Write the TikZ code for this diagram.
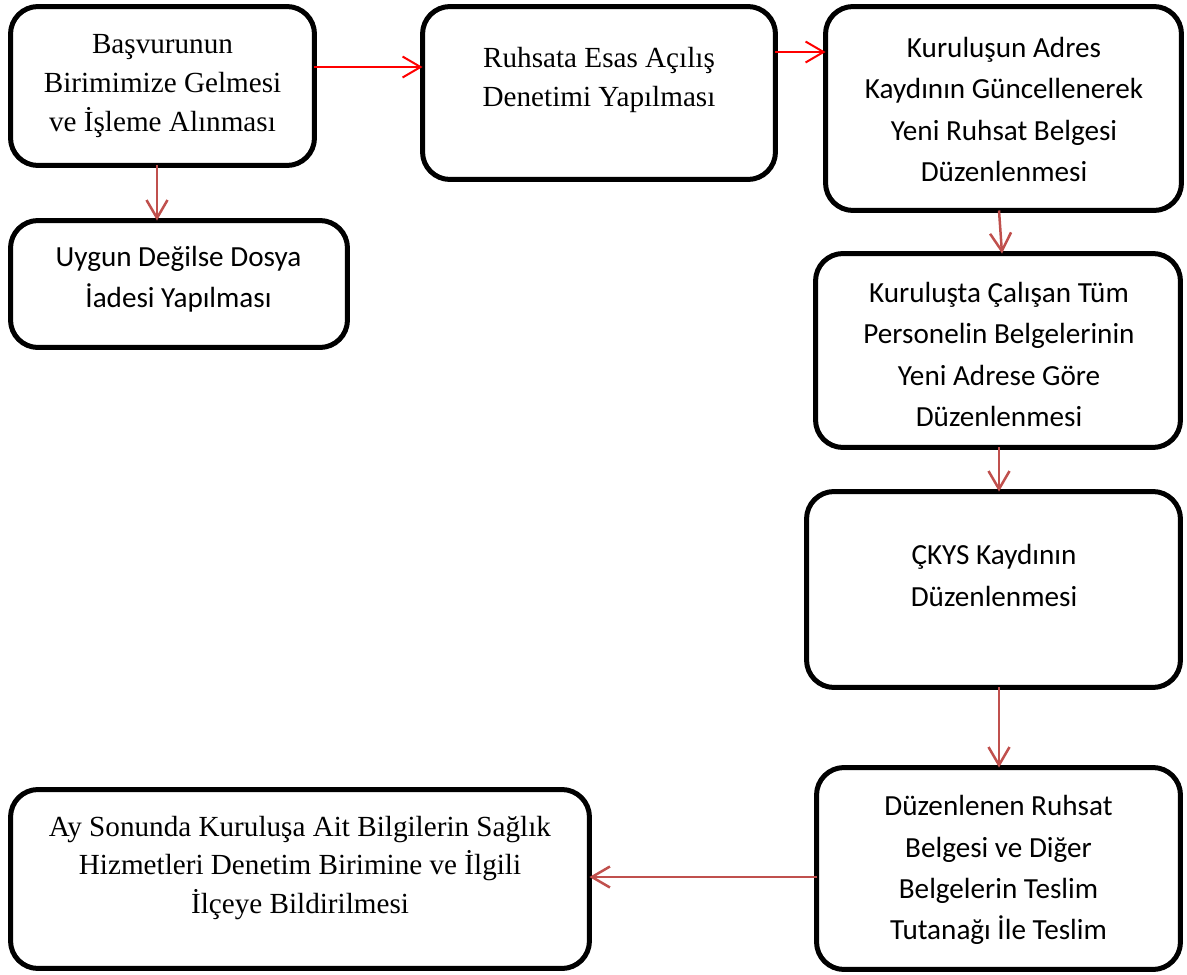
\documentclass[tikz,border=0pt]{standalone}
\usepackage{fontspec}
\setmainfont{Liberation Serif}
\newfontfamily\calibri{Carlito}
\usetikzlibrary{arrows.meta}
\definecolor{flowred}{HTML}{FF0000}
\definecolor{darkflow}{HTML}{C0504D}
\tikzset{
  box/.style={draw=black, line width=0.1cm, rounded corners=0.55cm, fill=white,
    inner sep=0pt, outer sep=0pt},
  serif/.style={align=center, inner sep=0pt, font=\fontsize{16.6pt}{22pt}\selectfont},
  sans/.style={align=center, inner sep=0pt, font=\calibri\fontsize{16.6pt}{23.4pt}\selectfont},
  redarr/.style={draw=flowred, line width=0.04cm,
    -{Straight Barb[length=0.36cm, width=0.42cm]}},
  darkarr/.style={draw=darkflow, line width=0.05cm,
    -{Straight Barb[length=0.36cm, width=0.42cm]}},
}
\begin{document}
\begin{tikzpicture}[x=0.02cm, y=-0.02cm]
\useasboundingbox (0,0) rectangle (1187,974);

% boxes
\node[box, minimum width=6.08cm,  minimum height=3.18cm] (A) at (162.5,86)   {};
\node[box, minimum width=7.06cm,  minimum height=3.46cm] (B) at (599,93)     {};
\node[box, minimum width=7.12cm,  minimum height=4.08cm] (C) at (1003.5,108.5) {};
\node[box, minimum width=6.74cm,  minimum height=2.54cm] (D) at (179,284)    {};
\node[box, minimum width=7.30cm,  minimum height=3.88cm] (E) at (998,350.5)  {};
\node[box, minimum width=7.48cm,  minimum height=3.92cm] (F) at (993.5,589.5) {};
\node[box, minimum width=7.28cm,  minimum height=4.04cm] (G) at (998.5,868.5) {};
\node[box, minimum width=11.58cm, minimum height=3.58cm] (H) at (300,879)    {};

% texts
\node[serif] (A-t) at (162.5,86) {Başvurunun\\Birimimize Gelmesi\\ve İşleme Alınması};
\node[serif] (B-t) at (599,80) {Ruhsata Esas Açılış\\Denetimi Yapılması};
\node[sans]  (C-t) at (1004,109.5) {Kuruluşun Adres\\Kaydının Güncellenerek\\Yeni Ruhsat Belgesi\\Düzenlenmesi};
\node[sans]  (D-t) at (178.5,279) {Uygun Değilse Dosya\\İadesi Yapılması};
\node[sans]  (E-t) at (999,354.5) {Kuruluşta Çalışan Tüm\\Personelin Belgelerinin\\Yeni Adrese Göre\\Düzenlenmesi};
\node[sans]  (F-t) at (994,575.5) {ÇKYS Kaydının\\Düzenlenmesi};
\node[sans]  (G-t) at (998.5,870) {Düzenlenen Ruhsat\\Belgesi ve Diğer\\Belgelerin Teslim\\Tutanağı İle Teslim};
\node[serif] (H-t) at (300,868) {Ay Sonunda Kuruluşa Ait Bilgilerin Sağlık\\Hizmetleri Denetim Birimine ve İlgili\\İlçeye Bildirilmesi};

% connectors
\draw[redarr] ([yshift=0.38cm]A.east) coordinate (ab) -- (ab -| B.west);
\draw[redarr] ([yshift=0.82cm]B.east) coordinate (bc) -- (bc -| C.west);
\draw[darkarr] ([xshift=-0.11cm]A.south) coordinate (ad) -- (ad |- D.north);
\draw[darkarr] ([xshift=-0.09cm]C.south) -- ([xshift=0.08cm]E.north);
\draw[darkarr] ([xshift=0.02cm]E.south) coordinate (ef) -- (ef |- F.north);
\draw[darkarr] ([xshift=0.11cm]F.south) coordinate (fg) -- (fg |- G.north);
\draw[darkarr] ([yshift=-0.17cm]G.west) coordinate (gh) -- (gh -| H.east);
\end{tikzpicture}
\end{document}
